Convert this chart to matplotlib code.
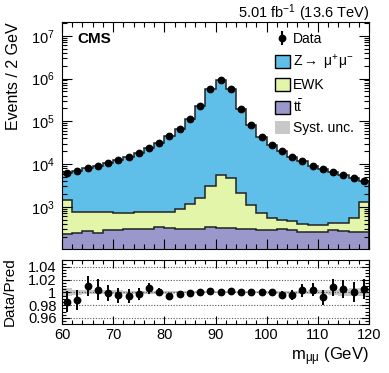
import numpy as np
import matplotlib
matplotlib.use('Agg')
import matplotlib.pyplot as plt
from matplotlib.ticker import MultipleLocator, LogLocator, NullFormatter, FuncFormatter
from matplotlib.patches import Patch

plt.rcParams['font.family'] = ['Liberation Sans', 'DejaVu Sans']
plt.rcParams['mathtext.fontset'] = 'custom'
plt.rcParams['mathtext.rm'] = 'Liberation Sans'
plt.rcParams['mathtext.it'] = 'Liberation Sans:italic'
plt.rcParams['mathtext.bf'] = 'Liberation Sans:bold'

# ---- data ----
bin_edges = np.arange(60, 122, 2)
data = [6080, 6900, 8100, 9180, 10600, 12500, 14900, 18200, 23400, 31200,
        46200, 66400, 113800, 230000, 574000, 934000, 565000, 195000, 81000, 43800,
        27500, 20300, 14400, 11600, 9200, 7680, 6450, 5560, 4790, 4080]
zmumu = [4730, 6220, 7280, 8390, 9870, 11820, 14250, 17520, 22510, 30410,
         45700, 65740, 112700, 228360, 569960, 927970, 559450, 192860, 79840, 43040,
         26930, 19900, 13990, 11170, 8780, 7370, 5990, 5120, 4240, 2790]
ewk = [1209, 528, 465, 503, 454, 453, 433, 443, 453, 429,
       451, 568, 848, 1338, 2789, 5247, 4337, 1838, 823, 429,
       273, 193, 183, 133, 123, 111, 128, 143, 294, 1017]
ttbar = [231, 239, 275, 247, 286, 282, 302, 297, 297, 331,
         319, 302, 302, 302, 331, 313, 313, 302, 297, 286,
         282, 297, 282, 262, 257, 257, 282, 267, 253, 253]
ratio_err = [0.0168, 0.0158, 0.0158, 0.0158, 0.012, 0.0116, 0.011, 0.0095, 0.008, 0.0063,
             0.0047, 0.0037, 0.003, 0.002, 0.0013, 0.001, 0.0013, 0.002, 0.003, 0.0026,
             0.0053, 0.0068, 0.0079, 0.010, 0.0105, 0.0116, 0.013, 0.0142, 0.0158, 0.0158]
syst_rel = [0.006, 0.004, 0.003, 0.003, 0.003, 0.003, 0.0025, 0.002, 0.002, 0.002,
            0.002, 0.0015, 0.0015, 0.0015, 0.0015, 0.0015, 0.0015, 0.0015, 0.0015, 0.0015,
            0.002, 0.002, 0.002, 0.0025, 0.003, 0.003, 0.004, 0.005, 0.006, 0.006]
ratio_ticks = [0.96, 0.98, 1.0, 1.02, 1.04]

zcol = '#5fbfe9'
ewkcol = '#e2f5a9'
ttcol = '#9a98cb'
systcol = '#c8c8c8'

edges = np.asarray(bin_edges, dtype=float)
centers = 0.5 * (edges[1:] + edges[:-1])
d = np.asarray(data, float)
c1 = np.asarray(ttbar, float)
c2 = c1 + np.asarray(ewk, float)
c3 = c2 + np.asarray(zmumu, float)

fig = plt.figure(figsize=(3.89, 3.73), dpi=100)
ax = fig.add_axes([0.1594, 0.3324, 0.7892, 0.6086])
rax = fig.add_axes([0.1594, 0.1314, 0.7892, 0.1716])

# stacked histograms
ax.stairs(c3, edges, baseline=c2, fill=True, color=zcol, lw=0)
ax.stairs(c2, edges, baseline=c1, fill=True, color=ewkcol, lw=0)
ax.stairs(c1, edges, baseline=1, fill=True, color=ttcol, lw=0)
for c in (c1, c2, c3):
    ax.stairs(c, edges, color='#222222', lw=1.1)
ax.plot(centers, d, 'o', color='k', ms=4.6, zorder=5)

ax.set_yscale('log')
ax.set_xlim(60, 120)
ax.set_ylim(103, 2.1e7)
ax.yaxis.set_major_locator(LogLocator(base=10, numticks=20))
ax.yaxis.set_minor_locator(LogLocator(base=10, subs=np.arange(2, 10), numticks=20))
ax.yaxis.set_minor_formatter(NullFormatter())
ax.xaxis.set_major_locator(MultipleLocator(10))
ax.xaxis.set_minor_locator(MultipleLocator(2))
ax.tick_params(which='both', direction='in', top=True, right=True, labelbottom=False)
ax.tick_params(which='major', length=7, width=0.8, labelsize=10.5, pad=5)
ax.tick_params(which='minor', length=3.5, width=0.8)
ax.set_ylabel('Events / 2 GeV', fontsize=11.5, loc='top')
ax.yaxis.set_label_coords(-0.135, 1.0)

ax.text(0.049, 0.955, 'CMS', transform=ax.transAxes, fontsize=11, fontweight='bold',
        va='top', ha='left')
fig.text(0.9486, 0.952, r'5.01 fb$^{-1}$ (13.6 TeV)', ha='right', va='baseline', fontsize=10.5)

# legend
h_data = ax.errorbar([], [], yerr=[], fmt='o', color='k', ms=4.6)
handles = [h_data,
           Patch(facecolor=zcol, edgecolor='k', lw=1),
           Patch(facecolor=ewkcol, edgecolor='k', lw=1),
           Patch(facecolor=ttcol, edgecolor='k', lw=1),
           Patch(facecolor=systcol, edgecolor='none')]
labels = ['Data', r'Z$\rightarrow$ μ$^{+}$μ$^{-}$', 'EWK', r't$\bar{\mathrm{t}}$', 'Syst. unc.']
ax.legend(handles, labels, loc='upper left', bbox_to_anchor=(0.694, 0.955), frameon=False,
          fontsize=10, handlelength=1.05, handleheight=1.05, handletextpad=0.25,
          labelspacing=0.45, borderpad=0, borderaxespad=0)

# ratio panel
ratio = d / c3
rax.stairs(1 + np.asarray(syst_rel), edges, baseline=1 - np.asarray(syst_rel), fill=True,
           color=systcol, lw=0)
for t in ratio_ticks:
    rax.axhline(t, color='#555555', lw=0.8, ls=(0, (1, 1.5)), zorder=1)
rax.errorbar(centers, ratio, yerr=ratio_err, fmt='o', color='k', ms=4.6, elinewidth=1.4,
             capsize=0, zorder=5)
rax.set_xlim(60, 120)
rax.set_ylim(0.9505, 1.0505)
rax.yaxis.set_major_locator(matplotlib.ticker.FixedLocator(ratio_ticks))
rax.yaxis.set_major_formatter(FuncFormatter(lambda v, p: f'{v:g}'))
rax.yaxis.set_minor_locator(MultipleLocator(0.005))
rax.xaxis.set_major_locator(MultipleLocator(10))
rax.xaxis.set_minor_locator(MultipleLocator(2))
rax.tick_params(which='both', direction='in', top=True, right=True)
rax.tick_params(which='major', length=6, width=0.8, labelsize=10.5, pad=4)
rax.tick_params(axis='x', which='major', pad=3)
rax.tick_params(which='minor', length=3, width=0.8)
rax.set_ylabel('Data/Pred', fontsize=11)
rax.yaxis.set_label_coords(-0.147, 0.5)
rax.set_xlabel(r'm$_{\mathrm{μμ}}$ (GeV)', fontsize=12, loc='right')
rax.xaxis.set_label_coords(1.0, -0.33)

fig.savefig('out.png', dpi=100)
